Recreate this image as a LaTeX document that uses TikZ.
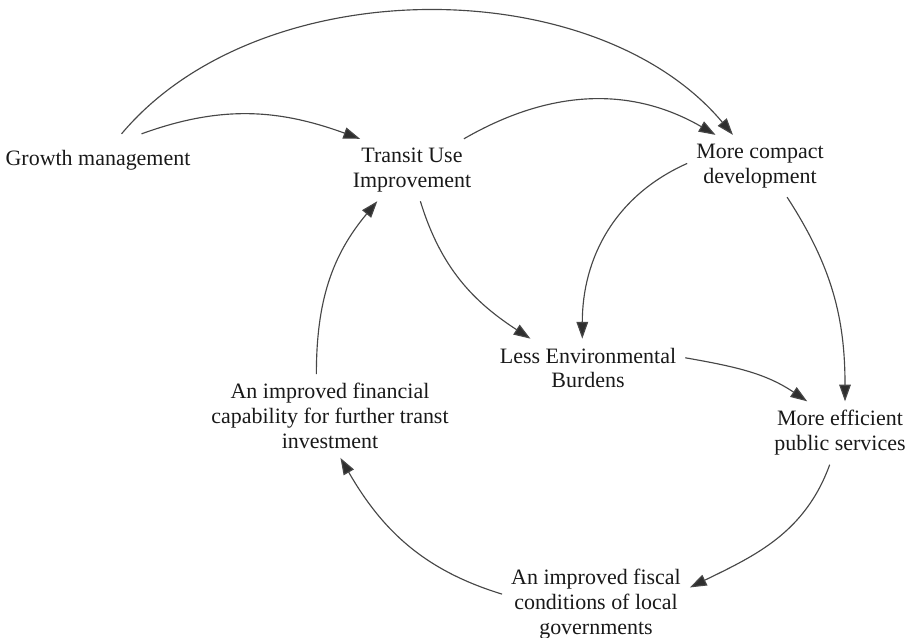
\documentclass[tikz,border=0pt]{standalone}
\usepackage{fontspec}
\setmainfont{Liberation Serif}
\usetikzlibrary{arrows.meta}

\begin{document}
\begin{tikzpicture}[x=0.02cm,y=0.02cm,
		factor/.style={align=center,inner sep=5pt,text=black!90,font=\fontsize{12.5}{14.2}\selectfont},
		link/.style={draw=black!72,line width=0.65pt,-{Triangle[length=9.5pt,width=6.6pt,fill=black!82]}}]
		\useasboundingbox (0,0) rectangle (910,637);
		\node [factor,inner ysep=9pt] (gm) at (98,477) {Growth management};
		\node [factor] (tu) at (412,467) {Transit Use\\Improvement};
		\node [factor] (cd) at (760,471) {More compact\\development};
		\node [factor] (le) at (588,269) {Less Environmental\\Burdens};
		\node [factor] (ef) at (840,204) {More efficient\\public services};
		\node [factor] (fi) at (330,221) {An improved financial\\capability for further transt\\investment};
		\node [factor] (fc) at (596,33) {An improved fiscal\\conditions of local\\governments};
		
		\draw [link,out=50,in=130,looseness=0.9] (gm.48) to (cd.131);
		\draw [link,out=20,in=160] (gm.31) to (tu.149);
		\draw [link,out=30,in=150] (tu.31) to (cd.145);
		\draw [link,out=-73,in=147] (tu.-75) to (le.153);
		\draw [link,out=204,in=90] (cd.178) to (le.101);
		\draw [link,out=-57,in=90] (cd.-49) to (ef.81);
		\draw [link,out=-10,in=146] (le.6) to (ef.136);
		\draw [link,out=-110,in=26] (ef.-108) to (fc.10);
		\draw [link,out=163,in=-60] (fc.174) to (fi.-76);
		\draw [link,out=90,in=-130] (fi.108) to (tu.-138);
\end{tikzpicture}
\end{document}
